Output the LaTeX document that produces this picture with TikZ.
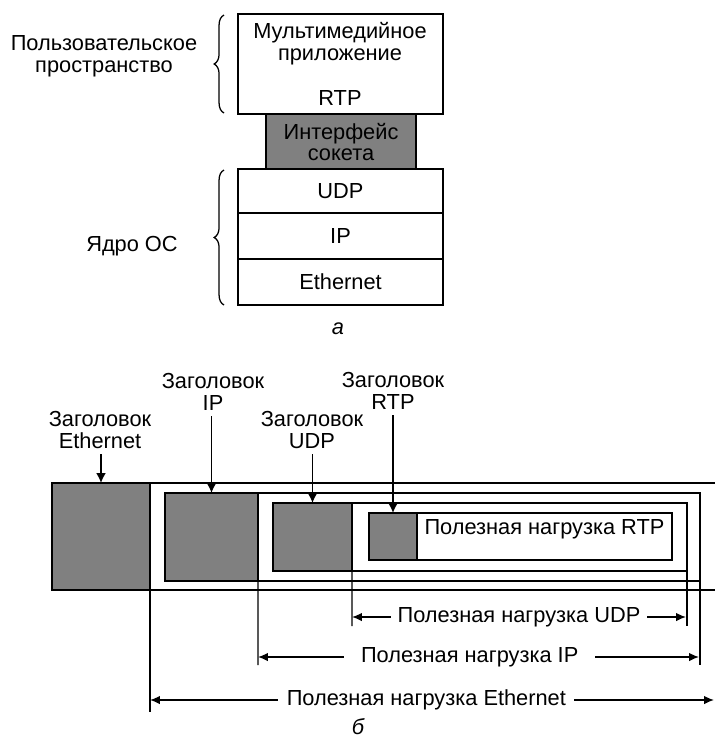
\documentclass[tikz,border=0pt]{standalone}
\usepackage{fontspec}
\setmainfont{Liberation Sans}
\usepackage{tikz}
\usetikzlibrary{arrows, arrows.meta, positioning, fit, decorations.pathreplacing}

\begin{document}
\begin{tikzpicture}[
    x=0.025cm, y=-0.025cm,
    every node/.style={font=\fontsize{15.5pt}{15.6pt}\selectfont, inner sep=0pt, outer sep=0pt},
    layer/.style={draw, line width=1.4pt},
    hdr/.style={draw, line width=1.4pt, fill=black!50},
    frm/.style={line width=1.3pt},
    ptr/.style={-{Latex[length=7pt, width=7pt]}, line width=1.3pt, shorten <=4pt},
    dim/.style={{Latex[length=7pt, width=6pt]}-{Latex[length=7pt, width=6pt]}, line width=1pt},
    tick/.style={line width=1pt},
    brc/.style={decorate, decoration={brace, amplitude=7pt}, line width=0.9pt}
]
\useasboundingbox (0,0) rectangle (715,746);

% stack
\node[layer, fit={(238,14) (443,114)}] (app) {};
\node[hdr, fit={(266,114) (416,169)}] (sock) {};
\node[layer, fit={(238,169) (443,213)}] (udp) {};
\node[layer, fit={(238,213) (443,259)}] (ip) {};
\node[layer, fit={(238,259) (443,305)}] (eth) {};

\node[align=center] (apptxt) at (340,44) {Мультимедийное\\приложение};
\node (rtptxt) at (340,98) {RTP};
\node[align=center] (socktxt) at (341,142) {Интерфейс\\сокета};
\node (udptxt) at (udp) {UDP};
\node (iptxt) at (ip) {IP};
\node (ethtxt) at (eth) {Ethernet};

\coordinate (userT) at (224,15);
\coordinate (userB) at (224,113);
\coordinate (kernT) at (224,170);
\coordinate (kernB) at (224,305);
\draw[brc] (userB) -- (userT);
\draw[brc] (kernB) -- (kernT);
\node[align=center] (user) at (104,56) {Пользовательское\\пространство};
\node (kern) at (132,246) {Ядро ОС};

\node (capa) at (338,329) {\itshape а};

% packet nesting
\node[hdr, fit={(52,483) (150,590)}] (ethhdr) {};
\node[hdr, fit={(165,493) (258,581)}] (iphdr) {};
\node[hdr, fit={(273,503) (352,571)}] (udphdr) {};
\node[hdr, fit={(369,513) (417,560)}] (rtphdr) {};
\node[layer, fit={(417,513) (672,560)}] (rtppay) {Полезная нагрузка RTP};

\draw[frm] (ethhdr.north east) -- (715,483);
\draw[frm] (ethhdr.south east) -- (715,590);
\draw[frm] (iphdr.north east) -- (700,493) -- (700,665);
\draw[frm] (iphdr.south east) -- (700,581);
\draw[frm] (udphdr.north east) -- (687,503) -- (687,626);
\draw[frm] (udphdr.south east) -- (687,571);

\draw[tick] (ethhdr.south east) -- (150,712);
\draw[tick] (iphdr.south east) -- (258,665);
\draw[tick] (udphdr.south east) -- (352,626);

\node[align=center] (ethlbl) at (100,430) {Заголовок\\Ethernet};
\node[align=center] (iplbl) at (213,392) {Заголовок\\IP};
\node[align=center] (udplbl) at (312,430) {Заголовок\\UDP};
\node[align=center] (rtplbl) at (393,391) {Заголовок\\RTP};

\draw[ptr] (ethhdr.north |- ethlbl.south) -- (ethhdr.north);
\draw[ptr] (iphdr.north |- iplbl.south) -- (iphdr.north);
\draw[ptr] (udphdr.north |- udplbl.south) -- (udphdr.north);
\draw[ptr] (rtphdr.north |- rtplbl.south) -- (rtphdr.north);

\coordinate (udpA) at (352,617);
\coordinate (udpB) at (686,617);
\coordinate (ipA) at (258,657);
\coordinate (ipB) at (699,657);
\coordinate (ethA) at (150,700);
\coordinate (ethB) at (714,700);
\draw[dim] (udpA) -- (udpB) node[midway, fill=white, inner xsep=5pt, inner ysep=2pt] (udpdim) {Полезная нагрузка UDP};
\draw[dim] (ipA) -- (ipB) node[pos=0.48, fill=white, inner xsep=12pt, inner ysep=2pt] (ipdim) {Полезная нагрузка IP};
\draw[dim] (ethA) -- (ethB) node[pos=0.49, fill=white, inner xsep=6pt, inner ysep=2pt] (ethdim) {Полезная нагрузка Ethernet};

\node (capb) at (358,727) {\itshape б};

\end{tikzpicture}
\end{document}
